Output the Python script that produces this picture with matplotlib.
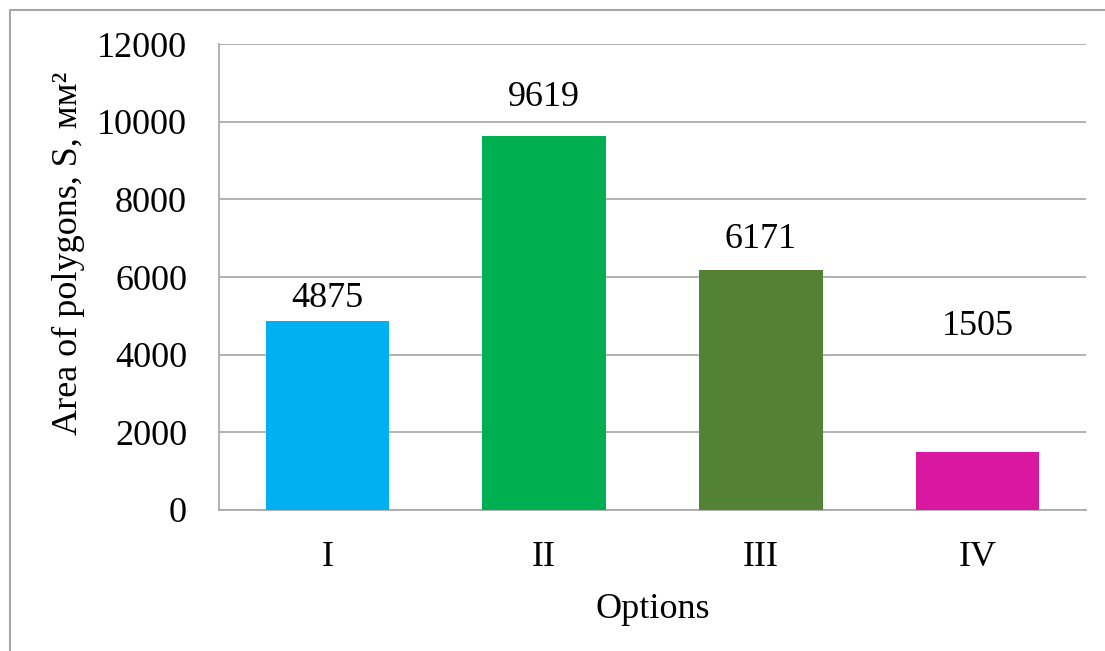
import matplotlib.pyplot as plt
from matplotlib.lines import Line2D

plt.rcParams['font.family'] = ['Liberation Serif', 'DejaVu Serif']

options = ['I', 'II', 'III', 'IV']
areas = [4875, 9619, 6171, 1505]
bar_colors = ['#00B0F0', '#00B050', '#548235', '#DA17A0']
# how far each value label sits above its bar (points)
label_offsets = [16, 28, 22, 90]

W, H = 1105, 651
fig = plt.figure(figsize=(W / 100, H / 100), dpi=100)
ax = fig.add_axes([219 / W, 1 - 510 / H, (1086 - 219) / W, (510 - 44) / H])

x = range(len(options))
bars = ax.bar(x, areas, width=0.57, color=bar_colors, zorder=3)

for b, v, off in zip(bars, areas, label_offsets):
    ax.annotate(str(v), (b.get_x() + b.get_width() / 2, v),
                xytext=(0, off), textcoords='offset points',
                ha='center', va='center', fontsize=26)

ax.set_xlim(-0.5, len(options) - 0.5)
ax.set_ylim(0, 12000)
ax.set_yticks(range(0, 12001, 2000))
ax.set_xticks(list(x))
ax.set_xticklabels(options)
ax.tick_params(axis='both', length=0, labelsize=26)
ax.tick_params(axis='y', pad=23)
ax.tick_params(axis='x', pad=22)
ax.yaxis.grid(True, color='#A6A6A6', linewidth=1.2, zorder=0)

for side in ['top', 'right']:
    ax.spines[side].set_visible(False)
for side in ['left', 'bottom']:
    ax.spines[side].set_color('#A6A6A6')
    ax.spines[side].set_linewidth(1.2)

ax.set_xlabel('Options', fontsize=26, labelpad=14)
ax.set_ylabel('Area of polygons, S, мм²', fontsize=26)
ax.yaxis.set_label_coords(-0.155, 0.55)

# outer chart frame
fig.add_artist(Line2D([10 / W, 10 / W, 1.0], [0.0, 1 - 10 / H, 1 - 10 / H],
                      transform=fig.transFigure, color='#A6A6A6', linewidth=1.5))

fig.savefig('out.png', dpi=100)
